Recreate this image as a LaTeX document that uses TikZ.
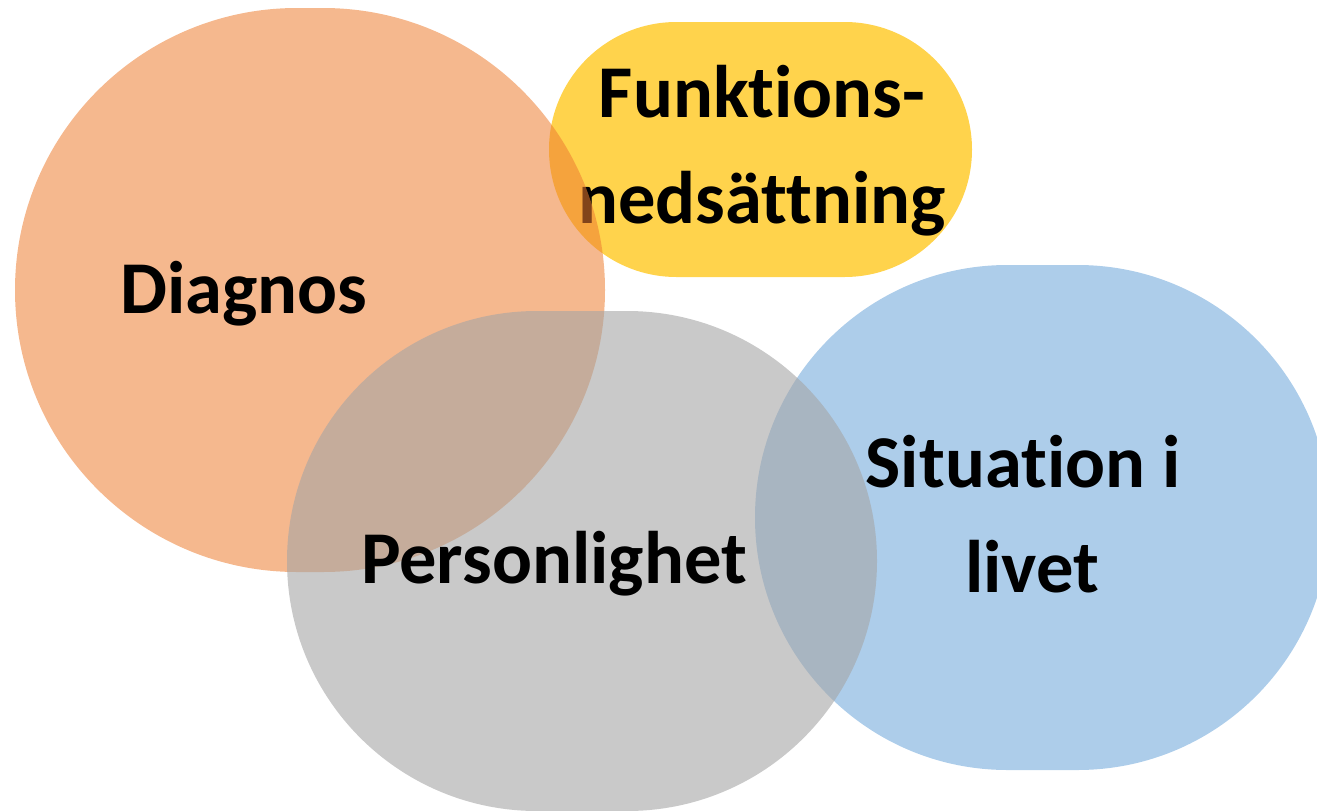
\documentclass[tikz,border=0pt]{standalone}
\usepackage{fontspec}
\setmainfont{Carlito}[RawFeature={-liga}]
\usetikzlibrary{shapes.misc}
\definecolor{accOrange}{HTML}{ED7D31}
\definecolor{accYellow}{HTML}{FFC000}
\definecolor{accGray}{HTML}{A5A5A5}
\definecolor{accBlue}{HTML}{5B9BD5}
\tikzset{
  blob/.style={rounded rectangle, inner sep=0pt, draw=none},
  label/.style={font=\fontsize{74.5}{88}\selectfont\bfseries, text=black, inner sep=0pt, anchor=base}
}
\begin{document}
\begin{tikzpicture}[x=1pt, y=-1pt]
  \useasboundingbox (0,0) rectangle (1317,811);
  \clip (0,0) rectangle (1317,811);
  % life situation
  \node[blob, fill=accBlue, fill opacity=0.5, minimum width=575pt, minimum height=505pt] (situation) at (1042.5,517.5) {};
  \node[label] (situationA) at (1023,487) {Situation i};
  \node[label] (situationB) at (1032,592) {livet};
  % disability
  \node[blob, fill=accYellow, fill opacity=0.7, minimum width=423pt, minimum height=255pt] (funktion) at (760.5,149.5) {};
  \node[label] (funktionA) at (762,117) {Funktions-};
  \node[label] (funktionB) at (762,223) {nedsättning};
  % diagnosis
  \node[blob, fill=accOrange, fill opacity=0.55, minimum width=590pt, minimum height=564pt] (diagnos) at (310,290) {};
  \node[label] (diagnosText) at (244,313) {Diagnos};
  % personality
  \node[blob, fill=accGray, fill opacity=0.6, minimum width=590pt, minimum height=500pt] (person) at (582,561) {};
  \node[label] (personText) at (554,583) {Personlighet};
\end{tikzpicture}
\end{document}
